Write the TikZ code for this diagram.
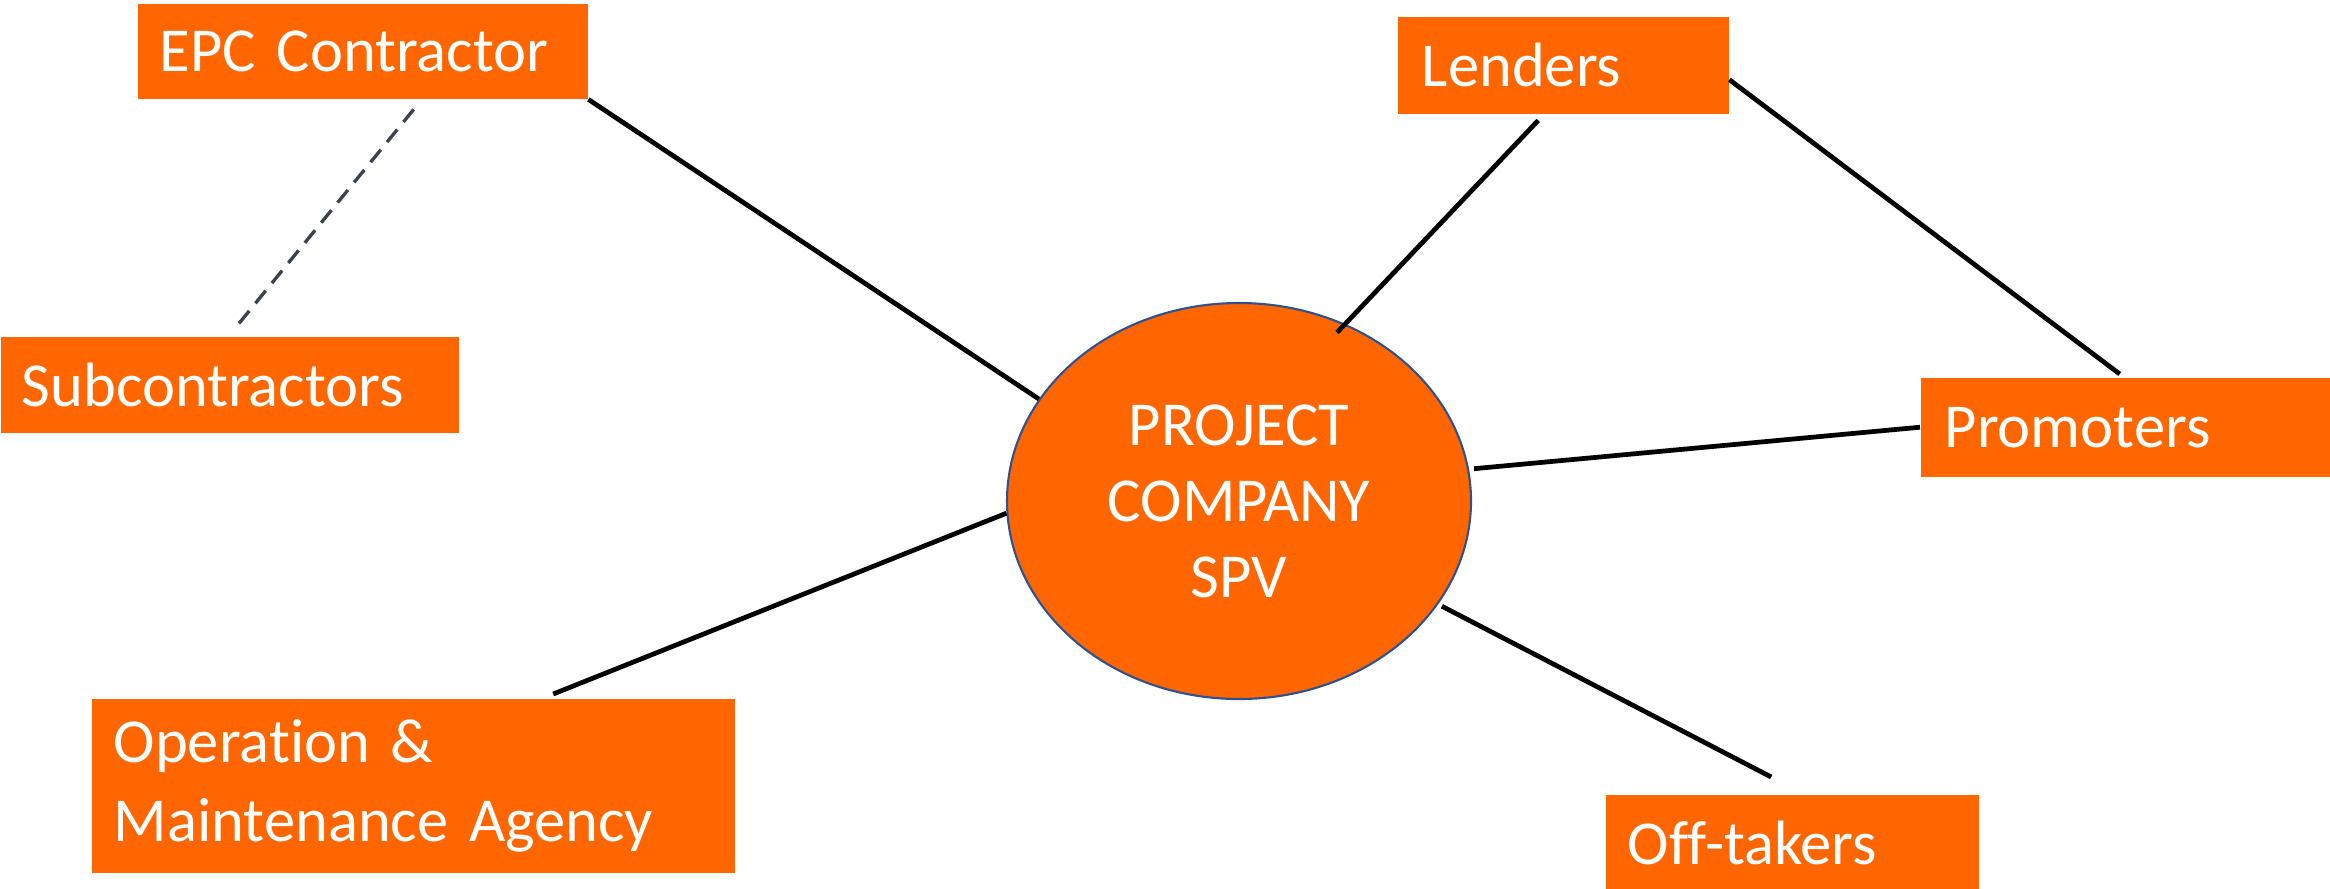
\documentclass[tikz,border=0pt]{standalone}
\usepackage{fontspec}
\setmainfont{Carlito}[Ligatures={NoCommon,NoContextual}]
\usetikzlibrary{shapes.geometric}
\definecolor{boxorange}{HTML}{FF6600}
\definecolor{rimblue}{HTML}{2F528F}
\definecolor{dashgrey}{HTML}{3C4250}
\begin{document}
\begin{tikzpicture}[
  x=1cm, y=1cm,
  party/.style={rectangle, fill=boxorange, anchor=north west, inner ysep=0pt,
    inner xsep=0.22cm, align=left, text=white,
    font=\fontsize{17.8pt}{22.4pt}\selectfont},
  hub/.style={ellipse, fill=boxorange, draw=rimblue, line width=0.6pt,
    minimum width=4.64cm, minimum height=3.96cm, inner sep=0pt, align=center,
    text=white, font=\fontsize{17.8pt}{21.6pt}\selectfont},
  link/.style={draw=black, line width=1.35pt},
  sublink/.style={draw=dashgrey, line width=0.95pt, dash pattern=on 4.6pt off 2.8pt}
]
\useasboundingbox (0,0) rectangle (23.30,-8.88);

% parties around the project company
\node[party, text width=4.06cm, minimum height=0.95cm] (epc) at (1.37,-0.03) {EPC Contractor};
\node[party, text width=4.16cm, minimum height=0.96cm, inner xsep=0.21cm] (sub) at (0,-3.36) {Subcontractors};
\node[party, text width=2.83cm, minimum height=0.97cm, inner xsep=0.24cm] (lenders) at (13.97,-0.16) {Lenders};
\node[party, text width=3.62cm, minimum height=0.99cm, inner xsep=0.24cm] (prom) at (19.20,-3.77) {Promoters};
\node[party, text width=5.99cm, minimum height=1.74cm] (om) at (0.91,-6.98) {Operation \&\\Maintenance Agency};
\node[party, text width=3.29cm, minimum height=0.97cm] (off) at (16.05,-7.94) {Off-takers};

% the special purpose vehicle
\node[hub] (spv) at (12.39,-5.01) {PROJECT\\COMPANY\\SPV};

% contractual links
\draw[link] (epc.south east) -- (spv.153);
\draw[sublink] ([xshift=0.51cm,yshift=-0.10cm]epc.south) -- ([xshift=0.08cm,yshift=0.11cm]sub.north);
\draw[link] ([xshift=-0.25cm,yshift=-0.06cm]lenders.south) -- ([xshift=-0.05cm,yshift=-0.10cm]spv.60);
\draw[link] ([yshift=-0.145cm]lenders.east) -- ([xshift=-0.06cm,yshift=0.03cm]prom.north);
\draw[link] (prom.west) -- ([xshift=0.05cm]spv.8);
\draw[link] ([xshift=1.40cm,yshift=0.04cm]om.north) -- (spv.183);
\draw[link] ([xshift=-0.21cm,yshift=0.17cm]off.north) -- ([xshift=0.05cm]spv.332);
\end{tikzpicture}
\end{document}
